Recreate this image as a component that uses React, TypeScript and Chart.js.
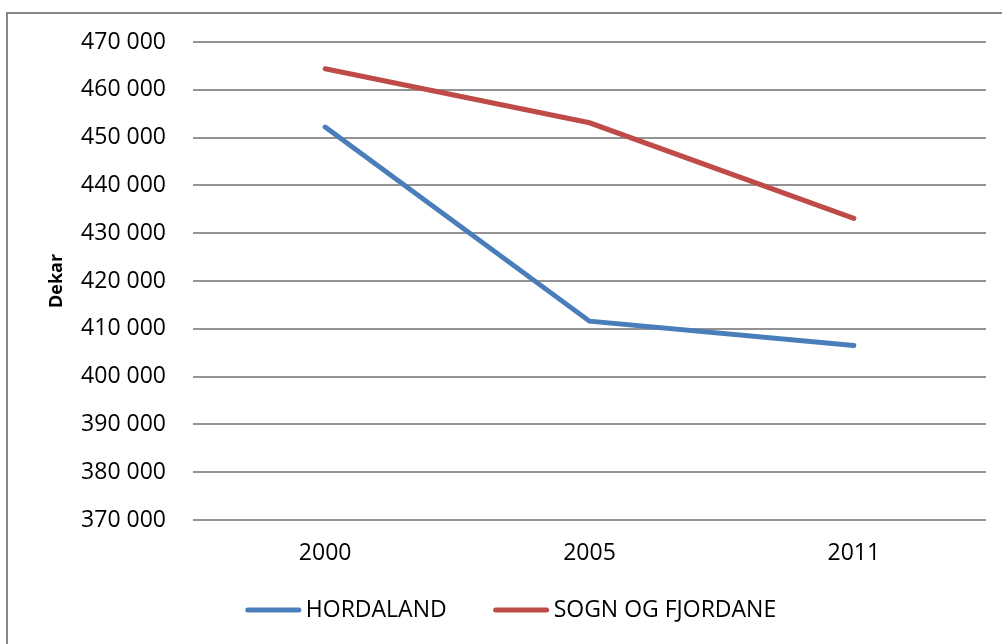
import React, { useEffect, useRef } from "react";
import { Chart, registerables } from "chart.js";

Chart.register(...registerables);

const years = ["2000", "2005", "2011"];
const hordaland = [452200, 411600, 406500];
const sognOgFjordane = [464400, 453100, 433100];
const seriesNames = ["HORDALAND", "SOGN OG FJORDANE"];
const seriesColors = ["#4A7EBB", "#BE4B48"];
const yMin = 370000;
const yMax = 470000;
const yStep = 10000;
const yTitle = "Dekar";

const FONT = "'Open Sans', 'DejaVu Sans', sans-serif";

const fmt = (v: number) =>
  String(v).replace(/\B(?=(\d{3})+(?!\d))/g, " ");

const legendPlugin = {
  id: "customLegend",
  afterDraw(chart: any) {
    const ctx = chart.ctx as CanvasRenderingContext2D;
    const datasets = chart.data.datasets;
    const lineLen = 55;
    const gap = 5;
    const spacing = 47;
    const centerX = 511;
    const y = 610;
    ctx.save();
    ctx.font = `23px ${FONT}`;
    const widths = datasets.map((d: any) => ctx.measureText(d.label).width);
    const total =
      widths.reduce((a: number, w: number) => a + lineLen + gap + w, 0) +
      spacing * (datasets.length - 1);
    let x = centerX - total / 2;
    datasets.forEach((d: any, i: number) => {
      ctx.strokeStyle = d.borderColor;
      ctx.lineWidth = 5;
      ctx.lineCap = "round";
      ctx.beginPath();
      ctx.moveTo(x + 2, y);
      ctx.lineTo(x + lineLen - 2, y);
      ctx.stroke();
      ctx.fillStyle = "#000";
      ctx.textBaseline = "middle";
      ctx.textAlign = "left";
      ctx.fillText(d.label, x + lineLen + gap, y);
      x += lineLen + gap + widths[i] + spacing;
    });
    ctx.restore();
  },
};

export default function App() {
  const ref = useRef<HTMLCanvasElement>(null);
  useEffect(() => {
    if (!ref.current) return;
    const chart = new Chart(ref.current, {
      type: "line",
      data: {
        labels: years,
        datasets: [
          {
            label: seriesNames[0],
            data: hordaland,
            borderColor: seriesColors[0],
            backgroundColor: seriesColors[0],
            borderWidth: 5,
            borderCapStyle: "round",
            pointRadius: 0,
            tension: 0,
          },
          {
            label: seriesNames[1],
            data: sognOgFjordane,
            borderColor: seriesColors[1],
            backgroundColor: seriesColors[1],
            borderWidth: 5,
            borderCapStyle: "round",
            pointRadius: 0,
            tension: 0,
          },
        ],
      },
      options: {
        responsive: false,
        animation: false,
        layout: { padding: { left: 0, top: 42, right: 16, bottom: 0 } },
        plugins: {
          legend: { display: false },
          tooltip: { enabled: false },
        },
        scales: {
          x: {
            offset: true,
            grid: { display: false, drawTicks: false },
            border: { display: false },
            ticks: {
              padding: 20,
              color: "#000",
              font: { family: FONT, size: 23 },
            },
            afterFit: (s: any) => {
              s.height = 124;
            },
          },
          y: {
            min: yMin,
            max: yMax,
            grid: { color: "#939393", lineWidth: 2, drawTicks: false },
            border: { display: false },
            ticks: {
              stepSize: yStep,
              padding: 27,
              color: "#000",
              font: { family: FONT, size: 23 },
              callback: (v: any) => fmt(Number(v)),
            },
            title: {
              display: true,
              text: yTitle,
              color: "#000",
              font: { family: FONT, size: 18, weight: "bold" },
              padding: { top: 46, bottom: 0 },
            },
            afterFit: (s: any) => {
              s.width = 193;
            },
          },
        },
      },
      plugins: [legendPlugin],
    });
    return () => chart.destroy();
  }, []);

  return (
    <div
      style={{
        position: "fixed",
        left: 0,
        top: 0,
        width: 1002,
        height: 644,
        overflow: "hidden",
        background: "#fff",
      }}
    >
      <div
        style={{
          position: "absolute",
          left: 6,
          top: 12,
          width: 1100,
          height: 700,
          border: "2px solid #878787",
          boxSizing: "border-box",
        }}
      />
      <canvas
        ref={ref}
        width={1002}
        height={644}
        style={{ position: "absolute", left: 0, top: 0 }}
      />
    </div>
  );
}
